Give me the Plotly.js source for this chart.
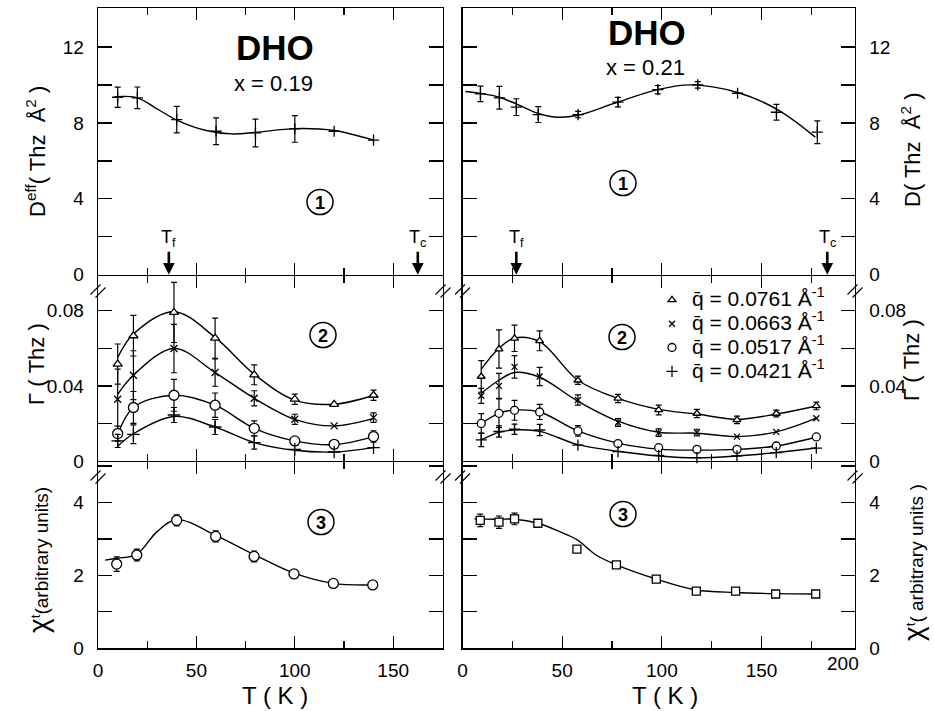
<!DOCTYPE html>
<html>
<head>
<meta charset="utf-8">
<script src="https://cdn.plot.ly/plotly-3.0.1.min.js"></script>
<style>html,body{margin:0;padding:0;background:#fff;}#chart{width:934px;height:711px;}</style>
</head>
<body>
<div id="chart"></div>
<script>
// ---------- DATA ----------
// Panel 1, x = 0.19 : D_eff (THz Å^2)
const T1L = [10, 20, 40, 60, 80, 100, 120, 140];
const D1L = [9.35, 9.32, 8.17, 7.56, 7.47, 7.68, 7.56, 7.09];
const D1Lerr = [0.53, 0.57, 0.7, 0.7, 0.73, 0.7, 0, 0];
const T1Lfit = [8.6, 20, 30, 40, 55, 68, 80, 100, 120, 140];
const D1Lfit = [9.38, 9.32, 8.74, 8.15, 7.6, 7.42, 7.5, 7.7, 7.6, 7.09];

// Panel 1, x = 0.21 : D (THz Å^2)
const T1R = [9, 18.5, 27, 38, 58, 78, 98, 118, 138, 157.5, 178];
const D1R = [9.53, 9.32, 8.83, 8.44, 8.44, 9.09, 9.75, 10.0, 9.56, 8.56, 7.51];
const D1Rerr = [0.41, 0.6, 0.44, 0.42, 0.17, 0.25, 0.22, 0.17, 0, 0.41, 0.6];
const T1Rfit = [1.5, 9, 18.5, 27, 38, 47, 58, 78, 98, 114, 138, 158, 177];
const D1Rfit = [9.65, 9.55, 9.35, 9.0, 8.5, 8.3, 8.4, 9.1, 9.75, 10.0, 9.6, 8.7, 7.25];

// Panel 2, x = 0.19 : Gamma (THz)
const T2L = [10, 18, 38.6, 59.5, 79.4, 100, 120, 140];
const G1L = [0.0516, 0.0667, 0.0791, 0.0654, 0.0459, 0.0329, 0.0302, 0.035];
const G1Lerr = [0.0107, 0.0108, 0.016, 0.0107, 0.0053, 0.0027, 0, 0.0027];
const G1Lfit = [0.0551, 0.0676, 0.0795, 0.0658, 0.0462, 0.0324, 0.0302, 0.035];
const G2L = [0.0329, 0.0457, 0.0599, 0.0471, 0.0334, 0.0222, 0.0187, 0.0231];
const G2Lerr = [0.016, 0.013, 0.0129, 0.0073, 0.004, 0.0027, 0, 0.0025];
const G2Lfit = [0.0355, 0.0457, 0.0599, 0.0471, 0.0334, 0.0222, 0.0187, 0.0227];
const G3L = [0.0146, 0.0285, 0.035, 0.0297, 0.0174, 0.0107, 0.0089, 0.013];
const G3Lerr = [0.004, 0.0085, 0.0085, 0.0065, 0.004, 0, 0, 0.003];
const G3Lfit = [0.0139, 0.0285, 0.035, 0.0297, 0.0174, 0.0107, 0.0087, 0.013];
const G4L = [0.0107, 0.0142, 0.0245, 0.0181, 0.0098, 0.0062, 0.0048, 0.0071];
const G4Lerr = [0.0035, 0.005, 0.004, 0.004, 0.0035, 0, 0, 0];
const G4Lfit = [0.0078, 0.0145, 0.0237, 0.0181, 0.0098, 0.0057, 0.0048, 0.0071];

// Panel 2, x = 0.21 : Gamma (THz)
const T2R = [9.4, 18.3, 26.1, 38.7, 57.9, 78, 98.4, 117.6, 137.7, 157.4, 177.5];
const G1R = [0.045, 0.0596, 0.0653, 0.064, 0.043, 0.0333, 0.0272, 0.0253, 0.0219, 0.0253, 0.0293];
const G1Rerr = [0.0084, 0.0102, 0.007, 0.0053, 0.0022, 0.0022, 0.0026, 0.0022, 0.002, 0.0018, 0.002];
const G1Rfit = [0.0489, 0.06, 0.0655, 0.0635, 0.043, 0.0333, 0.0275, 0.025, 0.0222, 0.025, 0.0293];
const G2R = [0.0347, 0.04, 0.0501, 0.045, 0.0325, 0.0205, 0.0151, 0.0151, 0.013, 0.0155, 0.0228];
const G2Rerr = [0.004, 0.0067, 0.006, 0.0049, 0.0027, 0.0021, 0.002, 0.0018, 0, 0, 0];
const G2Rfit = [0.0361, 0.043, 0.0471, 0.0446, 0.0318, 0.0212, 0.0153, 0.0148, 0.013, 0.0155, 0.0228];
const G3R = [0.02, 0.0254, 0.027, 0.0261, 0.016, 0.0093, 0.0071, 0.0062, 0.0062, 0.008, 0.0128];
const G3Rerr = [0.0052, 0.0076, 0.0053, 0.004, 0.0028, 0, 0, 0, 0, 0, 0];
const G3Rfit = [0.02, 0.0254, 0.0271, 0.0261, 0.016, 0.0095, 0.0063, 0.0058, 0.0062, 0.008, 0.0128];
const G4R = [0.0112, 0.0157, 0.0169, 0.0165, 0.0085, 0.005, 0.003, 0.0018, 0.0027, 0.0045, 0.0069];
const G4Rerr = [0.0035, 0.003, 0.0027, 0.003, 0, 0, 0, 0, 0, 0, 0];
const G4Rfit = [0.0112, 0.0152, 0.0165, 0.0158, 0.0087, 0.0052, 0.0027, 0.0017, 0.0027, 0.0045, 0.0069];

// Panel 3 : chi_t (arbitrary units)
const T3L = [9.5, 19.7, 40, 59.8, 79.3, 99.6, 119.6, 139.6];
const X3L = [2.31, 2.56, 3.51, 3.07, 2.52, 2.04, 1.78, 1.74];
const X3Lerr = [0.2, 0.16, 0.15, 0.15, 0.15, 0, 0, 0];
const T3Lfit = [3.6, 10, 19.7, 30, 40, 59.8, 79.3, 99.6, 119.6, 139.6];
const X3Lfit = [2.42, 2.47, 2.58, 3.2, 3.53, 3.1, 2.57, 2.06, 1.78, 1.74];

const T3R = [8.9, 18.3, 26.1, 37.8, 57.4, 77.2, 97.2, 117.3, 137, 157.1, 177.2];
const X3R = [3.51, 3.46, 3.55, 3.43, 2.72, 2.29, 1.9, 1.57, 1.57, 1.49, 1.49];
const X3Rerr = [0.17, 0.17, 0.16, 0, 0, 0, 0, 0, 0, 0, 0];
const T3Rfit = [6, 18.3, 26.1, 37.8, 48.7, 57.4, 67, 77.2, 97.2, 117.3, 137, 157.1, 177.2];
const X3Rfit = [3.55, 3.54, 3.54, 3.43, 3.2, 2.98, 2.56, 2.29, 1.9, 1.6, 1.53, 1.5, 1.49];

// Legend labels and temperature markers
const qLabels = ['q\u0304 = 0.0761 Å<sup>-1</sup>', 'q\u0304 = 0.0663 Å<sup>-1</sup>',
                 'q\u0304 = 0.0517 Å<sup>-1</sup>', 'q\u0304 = 0.0421 Å<sup>-1</sup>'];
const TfL = 36, TcL = 162.5, TfR = 27, TcR = 183;
const xTickVals = [0, 50, 100, 150];

// ---------- HELPERS ----------
const FONT = 'Liberation Sans, Arial, sans-serif';
const W = 934, H = 711;
const px = v => v / W;
const py = v => 1 - v / H;
const nanZero = a => a.map(v => (v === 0 ? NaN : v));

function pts(xa, ya, T, Y, E, symbol, size, name, showleg) {
  const open = /open/.test(symbol);
  return {
    type: 'scatter', mode: 'markers', x: T, y: Y, xaxis: xa, yaxis: ya,
    name: name ? '<span style="font-size:21px">' + name + '</span>' : '', showlegend: !!showleg,
    marker: {symbol: symbol, size: size, color: open ? 'black' : 'white', line: {color: 'black', width: 1.3}},
    error_y: {type: 'data', array: nanZero(E), visible: true, color: 'black', thickness: 1.2, width: 3},
    cliponaxis: false
  };
}
function fit(xa, ya, T, Y) {
  return {
    type: 'scatter', mode: 'lines', x: T, y: Y, xaxis: xa, yaxis: ya, showlegend: false,
    line: {color: 'black', width: 1.4, shape: 'spline', smoothing: 1}
  };
}

const traces = [
  fit('x5', 'y5', T2R, G1Rfit), fit('x5', 'y5', T2R, G2Rfit), fit('x5', 'y5', T2R, G3Rfit), fit('x5', 'y5', T2R, G4Rfit),
  pts('x5', 'y5', T2R, G1R, G1Rerr, 'triangle-up', 7, qLabels[0], true),
  pts('x5', 'y5', T2R, G2R, G2Rerr, 'x-thin-open', 6, qLabels[1], true),
  pts('x5', 'y5', T2R, G3R, G3Rerr, 'circle', 8, qLabels[2], true),
  pts('x5', 'y5', T2R, G4R, G4Rerr, 'cross-thin-open', 8, qLabels[3], true),

  fit('x', 'y', T1Lfit, D1Lfit),
  pts('x', 'y', T1L, D1L, D1Lerr, 'cross-thin-open', 8),
  fit('x4', 'y4', T1Rfit, D1Rfit),
  pts('x4', 'y4', T1R, D1R, D1Rerr, 'cross-thin-open', 8),

  fit('x2', 'y2', T2L, G1Lfit), fit('x2', 'y2', T2L, G2Lfit), fit('x2', 'y2', T2L, G3Lfit), fit('x2', 'y2', T2L, G4Lfit),
  pts('x2', 'y2', T2L, G1L, G1Lerr, 'triangle-up', 8),
  pts('x2', 'y2', T2L, G2L, G2Lerr, 'x-thin-open', 7),
  pts('x2', 'y2', T2L, G3L, G3Lerr, 'circle', 10),
  pts('x2', 'y2', T2L, G4L, G4Lerr, 'cross-thin-open', 9),

  fit('x3', 'y3', T3Lfit, X3Lfit),
  pts('x3', 'y3', T3L, X3L, X3Lerr, 'circle', 10),
  fit('x6', 'y6', T3Rfit, X3Rfit),
  pts('x6', 'y6', T3R, X3R, X3Rerr, 'square', 8)
];

function xAxis(domain, range, anchor, labels) {
  return {
    domain: domain, range: range, anchor: anchor, showline: true, mirror: 'ticks',
    linecolor: 'black', linewidth: 1.4, ticks: 'inside', ticklen: 12, tickwidth: 1.3, tickcolor: 'black',
    tickmode: 'array', tickvals: xTickVals,
    minor: {dtick: 25, tick0: 0, ticks: 'inside', ticklen: 7, tickwidth: 1.3, tickcolor: 'black', showgrid: false},
    showgrid: false, zeroline: false, showticklabels: labels, ticklabelstandoff: 4,
    tickfont: {size: 19, family: FONT, color: 'black'}, fixedrange: true
  };
}
function yAxis(domain, range, anchor, side, dtick, minor, fmt) {
  return {
    domain: domain, range: range, anchor: anchor, side: side, showline: true, mirror: 'ticks',
    linecolor: 'black', linewidth: 1.4, ticks: 'inside', ticklen: 14, tickwidth: 1.3, tickcolor: 'black',
    dtick: dtick, tick0: 0, tickformat: fmt,
    minor: {dtick: minor, tick0: 0, ticks: 'inside', ticklen: 14, tickwidth: 1.3, tickcolor: 'black', showgrid: false},
    showgrid: false, zeroline: false, ticklabelstandoff: 9,
    tickfont: {size: 19, family: FONT, color: 'black'}, fixedrange: true
  };
}

const xL = [px(98), px(443)], xR = [px(462.5), px(855)];
// borders overlap exactly: outer lines are drawn lw/2 outside each domain
const yTop = [py(274.8), py(8)], yMid = [py(461), py(276.2)], yBot = [py(648.3), py(462.4)];
const rL = [0, 175.3], rR = [0, 196.9];

const layout = {
  width: W, height: H, margin: {l: 0, r: 0, t: 0, b: 0},
  paper_bgcolor: 'white', plot_bgcolor: 'rgba(0,0,0,0)',
  font: {family: FONT, color: 'black'},
  showlegend: true,
  legend: {x: px(652), y: py(283), xanchor: 'left', yanchor: 'top', bgcolor: 'rgba(0,0,0,0)',
           font: {size: 16, family: FONT}, tracegroupgap: 0, itemwidth: 30},
  xaxis: xAxis(xL, rL, 'y', false),
  yaxis: yAxis(yTop, [0, 14.05], 'x', 'left', 4, 2, 'd'),
  xaxis2: xAxis(xL, rL, 'y2', false),
  yaxis2: yAxis(yMid, [0, 0.0984], 'x2', 'left', 0.04, 0.02, '.2f'),
  xaxis3: xAxis(xL, rL, 'y3', true),
  yaxis3: yAxis(yBot, [0, 5.1], 'x3', 'left', 2, 1, 'd'),
  xaxis4: xAxis(xR, rR, 'y4', false),
  yaxis4: yAxis(yTop, [0, 14.05], 'x4', 'right', 4, 2, 'd'),
  xaxis5: xAxis(xR, rR, 'y5', false),
  yaxis5: yAxis(yMid, [0, 0.0984], 'x5', 'right', 0.04, 0.02, '.2f'),
  xaxis6: xAxis(xR, rR, 'y6', true),
  yaxis6: yAxis(yBot, [0, 5.1], 'x6', 'right', 2, 1, 'd'),
  shapes: [],
  annotations: []
};
['yaxis2', 'yaxis5'].forEach(k => {
  layout[k].tickmode = 'array'; layout[k].tickvals = [0, 0.04, 0.08]; layout[k].ticktext = ['0', '0.04', '0.08'];
});

const A = layout.annotations, S = layout.shapes;
function txt(x, y, text, size, extra) {
  A.push(Object.assign({xref: 'paper', yref: 'paper', x: px(x), y: py(y), text: text, showarrow: false,
    xanchor: 'center', yanchor: 'middle', font: {size: size, family: FONT, color: 'black'}}, extra || {}));
}
// titles
txt(275, 47, '<b>DHO</b>', 35);
txt(273, 83, 'x = 0.19', 22);
txt(647, 33, '<b>DHO</b>', 35);
txt(645, 67, 'x = 0.21', 22);
txt(275, 695, 'T ( K )', 24);
txt(665, 695, 'T ( K )', 24);
txt(843, 663, '200', 19);
// y titles
txt(36, 152, 'D<sup>eff</sup>( Thz  Å<sup>2</sup> )', 22, {textangle: -90});
txt(36, 364, 'Γ ( Thz )', 22, {textangle: -90});
txt(38, 560, '<span style="font-size:28px">χ</span><sup>t</sup>(arbitrary units)', 19, {textangle: -90});
txt(911, 150, 'D( Thz  Å<sup>2</sup> )', 22, {textangle: -90});
txt(911, 360, 'Γ ( Thz )', 22, {textangle: -90});
txt(913, 563, '<span style="font-size:28px">χ</span><sup>t</sup>( arbitrary units )', 19, {textangle: -90});

// circled panel numbers
function circ(cx, cy, n) {
  S.push({type: 'circle', xref: 'paper', yref: 'paper', x0: px(cx - 13), x1: px(cx + 13),
          y0: py(cy + 12.5), y1: py(cy - 12.5), line: {color: 'black', width: 1.5}});
  txt(cx, cy + 1, '<b>' + n + '</b>', 18);
}
circ(320, 202, 1); circ(623, 183, 1);
circ(323, 335, 2); circ(622, 337, 2);
circ(321, 522, 3); circ(623, 514, 3);

// break marks //
function brk(x, y) {
  [-2.5, 2.5].forEach(d => {
    S.push({type: 'line', xref: 'paper', yref: 'paper', x0: px(x - 5 + d), y0: py(y + 5 + d * 0.6),
            x1: px(x + 5 + d), y1: py(y - 5 + d * 0.6), line: {color: 'black', width: 1.1}});
  });
}
[98, 443, 462.5, 855].forEach(x => { brk(x, 291); brk(x, 477); });

// Tf / Tc arrows
function arrow(xa, ya, x, label) {
  A.push({xref: xa, yref: ya, x: x, y: 0, text: label, showarrow: true, ax: 0, ay: -36,
          arrowhead: 2, arrowsize: 0.9, arrowwidth: 2.6, arrowcolor: 'black', standoff: 0,
          font: {size: 18, family: FONT, color: 'black'}});
}
arrow('x', 'y', TfL, 'T<sub>f</sub>');
arrow('x', 'y', TcL, 'T<sub>c</sub>');
arrow('x4', 'y4', TfR, 'T<sub>f</sub>');
arrow('x4', 'y4', TcR, 'T<sub>c</sub>');

Plotly.newPlot('chart', traces, layout, {staticPlot: true, displayModeBar: false});
</script>
</body>
</html>
